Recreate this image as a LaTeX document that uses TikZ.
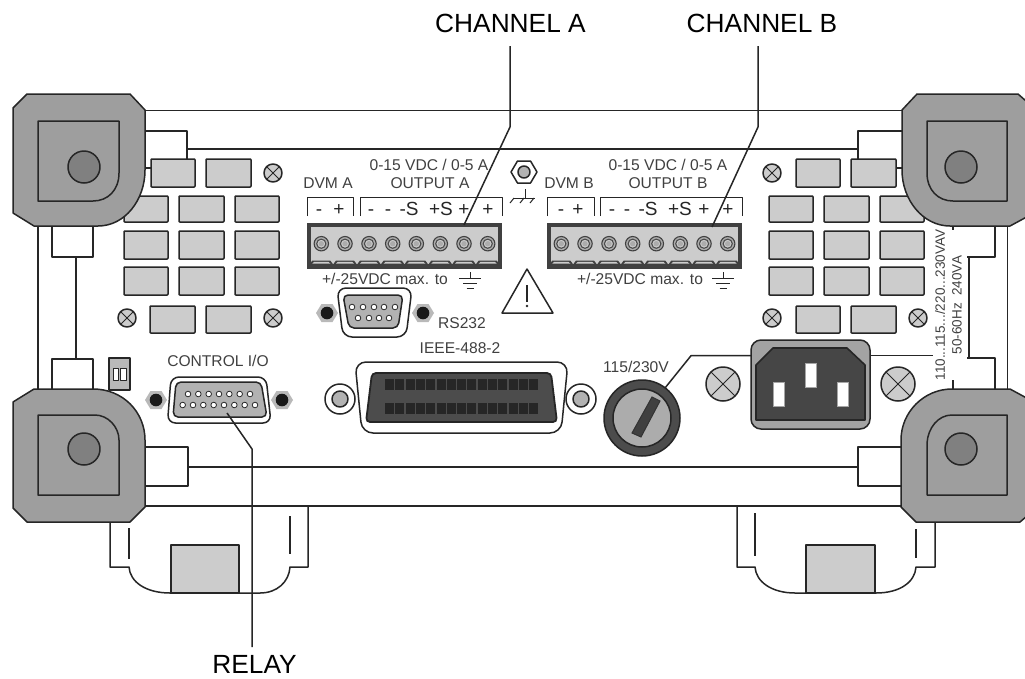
\documentclass[tikz,border=0pt]{standalone}
\usepackage{fontspec}
\setmainfont{Liberation Sans}
\definecolor{ink}{gray}{0.15}
\definecolor{txt}{gray}{0.25}
\definecolor{corner}{gray}{0.62}
\definecolor{knob}{gray}{0.5}
\definecolor{light}{gray}{0.8}
\tikzset{
  ln/.style={draw=ink,line width=1.5pt,line join=round},
  thin ln/.style={draw=ink,line width=1pt,line join=round},
  vent/.style={ln,fill=light,rounded corners=0.8pt},
  corner shape/.style={ln,fill=corner},
  title/.style={inner sep=0,text=black,font=\fontsize{26.3}{27}\selectfont},
  small/.style={inner sep=0,text=txt,font=\fontsize{15.6}{16}\selectfont},
  tiny/.style={inner sep=0,text=txt,font=\fontsize{13.5}{14}\selectfont},
  pol/.style={inner sep=0,anchor=base,text=ink,font=\fontsize{19}{19}\selectfont},
  leader/.style={draw=ink,line width=1.5pt,line join=round},
  hole/.style={draw=ink,line width=0.8pt,fill=white},
}
\newcommand{\xscrew}[3]{%
  \draw[ln,fill=light] (#1,#2) circle[radius=#3];
  \draw[thin ln] (#1-0.7*#3,#2-0.7*#3) -- (#1+0.7*#3,#2+0.7*#3);
  \draw[thin ln] (#1-0.7*#3,#2+0.7*#3) -- (#1+0.7*#3,#2-0.7*#3);}
\newcommand{\dscrew}[2]{%
  \fill[gray!55] (#1-11,#2) -- (#1-5.5,#2-9) -- (#1+5.5,#2-9) -- (#1+11,#2) -- (#1+5.5,#2+9) -- (#1-5.5,#2+9) -- cycle;
  \fill[black!90] (#1,#2) circle[radius=6.3];}
\newcommand{\gnd}[2]{%
  \draw[thin ln] (#1,#2) -- (#1,#2+6.5);
  \draw[thin ln] (#1-11,#2+6.5) -- (#1+11,#2+6.5);
  \draw[thin ln] (#1-7,#2+11.5) -- (#1+7,#2+11.5);
  \draw[thin ln] (#1-3.5,#2+16.5) -- (#1+3.5,#2+16.5);}
\newcommand{\termblock}[1]{%
  \begin{scope}[shift={(#1,223)}]
    \fill[black!75] (0,0) rectangle (195,46);
    \fill[light] (4,4) rectangle (191,41);
    \foreach \tx in {14.3,38,62,85.7,109.3,133.3,157,180.7}{
      \fill[black!75] (\tx-2.5,0) rectangle (\tx+2.5,3.5);
      \fill[black!75] (\tx-11.9,41.5) -- (\tx-9,37.5) -- (\tx+9,37.5) -- (\tx+11.9,41.5) -- cycle;
      \fill[light] (\tx-9,40.5) -- (\tx-7,38.8) -- (\tx+7,38.8) -- (\tx+9,40.5) -- cycle;
      \draw[draw=black!75,line width=1.1pt,fill=gray!65] (\tx,20.7) circle[radius=7.2];
      \draw[draw=black!70,line width=1.1pt,fill=light] (\tx,20.7) circle[radius=4.6];
      \fill[gray!65] (\tx,20.7) circle[radius=2.7];
    }
  \end{scope}}
\begin{document}
\begin{tikzpicture}[x=1pt,y=-1pt]
\clip (0,0) rectangle (1025,678);
\useasboundingbox (0,0) rectangle (1025,678);
\fill[white] (0,0) rectangle (1025,678);

% frame lines
\draw[ln] (145,110.7) -- (902,110.7);
\draw[ln] (187,149) -- (858,149);
\draw[ln] (188,467) -- (858,467);
\draw[ln] (145,506) -- (901,506);
% side rails and tabs
\draw[ln] (145,131) -- (187,131) -- (187,159);
\draw[ln] (145,168) -- (151,168);
\draw[ln] (902,131) -- (858,131) -- (858,159);
\draw[ln] (896,168) -- (902,168);
\draw[ln] (38,226) -- (38,389);
\draw[ln] (52,226) -- (52,257) -- (93,257) -- (93,226);
\draw[ln] (76,257) -- (76,359);
\draw[ln] (52,389) -- (52,359) -- (93,359) -- (93,389);
\draw[ln] (1007.5,226) -- (1007.5,389);
\draw[ln] (995,226) -- (995,257) -- (967,257);
\draw[ln] (969,257) -- (969,358);
\draw[ln] (967,358) -- (995,358) -- (995,389);
\draw[ln] (953,226) -- (953,230);
\draw[ln] (953,380) -- (953,389);
\draw[ln] (145,447) -- (188,447) -- (188,486) -- (145,486);
\draw[ln] (901,447) -- (858,447) -- (858,486) -- (901,486);

% vents
\foreach \xa/\ya/\xb/\yb in {
 151/159/195/187, 206/159/251/187,
 124/196/168/222, 179/196/224/222, 235/196/279/222,
 124/231/168/259, 179/231/224/259, 235/231/279/259,
 124/267/168/295, 179/267/224/295, 235/267/279/295,
 150/306/195/333, 206/306/251/333,
 796/159/840/187, 851/159/896/187,
 769/196/813/222, 824/196/869/222, 880/196/924/222,
 769/231/813/259, 824/231/869/259, 880/231/924/259,
 769/267/813/295, 824/267/869/295, 880/267/924/295,
 796/306/840/333, 851/306/896/333}
 {\draw[vent] (\xa,\ya) rectangle (\xb,\yb);}
\xscrew{273}{173}{9}
\xscrew{127}{318}{9}
\xscrew{273}{318}{9}
\xscrew{772}{173}{9}
\xscrew{772}{318}{9}
\xscrew{918}{318}{9}

% feet
\draw[ln] (110,522) -- (110,567) -- (129,567) .. controls (130,582) and (146,593) .. (170,593) -- (260,593) .. controls (277,593) and (289,582) .. (290,567) -- (308,567) -- (308,506);
\draw[ln] (129,528) -- (129,559);
\draw[ln] (290,516) -- (290,554);
\draw[ln,fill=light] (171,593) -- (171,545) -- (239,545) -- (239,593) -- cycle;
\draw[ln] (737,506) -- (737,567) -- (755,567) .. controls (756,582) and (772,593) .. (795,593) -- (876,593) .. controls (900,593) and (915,582) .. (916,567) -- (935,567) -- (935,522);
\draw[ln] (755,513) -- (755,556);
\draw[ln] (916,529) -- (916,558);
\draw[ln,fill=light] (806,593) -- (806,545) -- (875,545) -- (875,593) -- cycle;

% corners
\draw[corner shape] (27,94) -- (130,94) -- (145,110) -- (145,170) .. controls (145,200) and (125,226) .. (98,226) -- (34,226) -- (13,213) -- (13,108) -- cycle;
\draw[ln,fill=corner] (38,121) -- (119,121) -- (119,173) .. controls (119,190) and (108,201) .. (93,201) -- (38,201) -- cycle;
\draw[ln,fill=knob] (84,167) circle[radius=16];
\draw[corner shape] (917,94) -- (1018,94) -- (1034,108) -- (1034,213) -- (1010,226) -- (950,226) .. controls (923,226) and (902,200) .. (902,170) -- (902,110) -- cycle;
\draw[ln,fill=corner] (927,121) -- (1007,121) -- (1007,201) -- (953,201) .. controls (938,201) and (927,190) .. (927,173) -- cycle;
\draw[ln,fill=knob] (961,167) circle[radius=16];
\draw[corner shape] (13,402) -- (34,389) -- (93,389) .. controls (123,389) and (145,412) .. (145,440) -- (145,507) -- (130,522) -- (27,522) -- (13,508) -- cycle;
\draw[ln,fill=corner] (38,415) -- (95,415) .. controls (108,415) and (119,427) .. (119,440) -- (119,495) -- (38,495) -- cycle;
\draw[ln,fill=knob] (84,449) circle[radius=16];
\draw[corner shape] (901,440) .. controls (901,412) and (924,389) .. (952,389) -- (1010,389) -- (1034,402) -- (1034,510) -- (1020,522) -- (916,522) -- (901,507) -- cycle;
\draw[ln,fill=corner] (927,443) .. controls (928,428) and (938,415) .. (952,415) -- (1007,415) -- (1007,495) -- (927,495) -- cycle;
\draw[ln,fill=knob] (961,449) circle[radius=16];

% terminal blocks
\termblock{307}
\termblock{547}
\draw[thin ln] (307.3,216) -- (307.3,197) -- (353.3,197) -- (353.3,216);
\draw[thin ln] (360,216) -- (360,197) -- (502,197) -- (502,216);
\draw[thin ln] (547,216) -- (547,197) -- (594.7,197) -- (594.7,216);
\draw[thin ln] (600.7,216) -- (600.7,197) -- (742.3,197) -- (742.3,216);
\node[small] (ratingA) at (429,165) {0-15 VDC / 0-5 A};
\node[small] (ratingB) at (668,165) {0-15 VDC / 0-5 A};
\node[small] (outA) at (430,183) {OUTPUT A};
\node[small] (outB) at (668,183) {OUTPUT B};
\node[small] (dvmA) at (328,183) {DVM A};
\node[small] (dvmB) at (569,183) {DVM B};
\foreach \n/\px/\lab in {a1/319/-, a2/339/+, a3/371/-, a4/388/-, a5/409/-S, a6/441/+S, a7/464/+, a8/488/+,
  b1/561/-, b2/578/+, b3/612/-, b4/627/-, b5/648/-S, b6/680/+S, b7/704/+, b8/728/+}
  {\node[pol] (\n) at (\px,215) {\lab};}
\node[small] (maxA) at (385,279) {+/-25VDC max. to};
\node[small] (maxB) at (640,279) {+/-25VDC max. to};
\gnd{470}{272}
\gnd{723}{272}

% chassis stud
\draw[ln,fill=white] (511,172) -- (517.5,161) -- (530.5,161) -- (537,172) -- (530.5,183) -- (517.5,183) -- cycle;
\draw[ln,fill=gray!60] (524,172) circle[radius=6];
\draw[thin ln] (525,189) -- (525,198);
\draw[thin ln] (513,198) -- (535,198);
\draw[thin ln] (510,203) -- (514,198);
\draw[thin ln] (520,203) -- (524,198);
\draw[thin ln] (530,203) -- (534,198);

% warning
\draw[ln] (527,269) -- (502,313) -- (553,313) -- cycle;
\draw[ln,line width=1.6pt] (527,285) -- (527,302);
\fill[ink] (527,306) circle[radius=1.3];

% RS232
\dscrew{327}{313}
\dscrew{423}{313}
\draw[ln,fill=white,rounded corners=9] (337,288) -- (412,288) -- (406,337) -- (343,337) -- cycle;
\draw[ln,fill=gray!60,rounded corners=5] (343,295) -- (403,295) -- (398,328) -- (349,328) -- cycle;
\foreach \hx in {352,363,374,384,395} {\draw[hole] (\hx,307) circle[radius=2.8];}
\foreach \hx in {358,369,379,389} {\draw[hole] (\hx,318) circle[radius=2.8];}
\node[small] (rs) at (462,323) {RS232};
\node[small] (ieeeL) at (460,348) {IEEE-488-2};

% control I/O
\node[small] (ctl) at (218,361) {CONTROL I/O};
\dscrew{156}{400}
\dscrew{282}{400}
\draw[ln,fill=white,rounded corners=8] (171,377) -- (266,377) -- (271,423) -- (167.5,423) -- cycle;
\draw[ln,fill=gray!60,rounded corners=5] (176,382) -- (261,382) -- (267,417) -- (173,417) -- cycle;
\foreach \hx in {188,198.3,208.7,219,229.3,239.7,250} {\draw[hole] (\hx,394) circle[radius=2.8];}
\foreach \hx in {182.7,193,203.3,213.7,224,234.3,244.7,255} {\draw[hole] (\hx,405) circle[radius=2.8];}

% dip switch
\draw[ln,fill=gray!55] (109,358) rectangle (130,390);
\draw[thin ln,fill=white] (113,368) rectangle (118,380);
\draw[thin ln,fill=white] (120.5,368) rectangle (126,380);

% IEEE connector
\draw[ln,fill=white] (340,399) circle[radius=15];
\draw[ln,fill=gray!60] (340,399) circle[radius=8];
\draw[ln,fill=white] (581,399) circle[radius=15];
\draw[ln,fill=gray!60] (581,399) circle[radius=8];
\draw[ln,fill=white,rounded corners=11] (355,362) -- (568,362) -- (561,433) -- (362,433) -- cycle;
\draw[draw=black!85,line width=1.8pt,fill=gray!60!black,rounded corners=4] (372,373) -- (551,373) -- (557,422) -- (366,422) -- cycle;
\foreach \i in {0,...,14}{
  \fill[black!85] (385+10.3*\i,379) rectangle (394+10.3*\i,390);
  \fill[black!85] (385+10.3*\i,403) rectangle (394+10.3*\i,413.5);
}

% fuse
\node[small] (fuseL) at (636,367) {115/230V};
\draw[ln,fill=gray!60!black] (642,418) circle[radius=38];
\draw[ln,fill=gray!65] (642,418) circle[radius=29];
\draw[draw=gray!40!black,line width=1pt,fill=gray!50!black] (652,397) -- (660,401) -- (641,437) -- (632,433) -- cycle;

% IEC socket
\coordinate (iecL) at (751,355.7);
\coordinate (iecR) at (870,355.7);
\coordinate (fuseTop) at (665,388);
\draw[ln] (fuseTop) -- (691,355.7) -- (iecL);
\draw[ln] (iecR) -- (933,355.7);
\draw[ln,fill=gray!72,rounded corners=10] (751,340) rectangle (870,429);
\draw[ln,line width=1.6pt,fill=gray!55!black] (756,365) -- (773,348) -- (847,348) -- (865,365) -- (865,420) -- (756,420) -- cycle;
\foreach \xa/\ya/\xb/\yb in {773/382/784/406, 805/363/816/387, 837/382/848/406}
  {\draw[draw=gray!70,line width=0.8pt,fill=white] (\xa,\ya) rectangle (\xb,\yb);}
\xscrew{723}{384}{17}
\xscrew{898}{384}{17}

% rotated rating
\node[tiny,rotate=90] (volt) at (940,305) {110...115.../220...230VAV};
\node[tiny,rotate=90] (hz) at (957,305) {50-60Hz\ \ 240VA};

% leaders
\node[title] (chA) at (510.5,23) {CHANNEL A};
\node[title] (chB) at (762,23) {CHANNEL B};
\node[title] (relay) at (254.5,664.5) {RELAY};
\coordinate (tA) at (464,225);
\coordinate (tB) at (712,227);
\coordinate (tR) at (227,413);
\draw[leader] (510,46) -- (510,127) -- (tA);
\draw[leader] (758,46) -- (758,127) -- (tB);
\draw[leader] (tR) -- (252,449) -- (252,647);
\end{tikzpicture}
\end{document}
